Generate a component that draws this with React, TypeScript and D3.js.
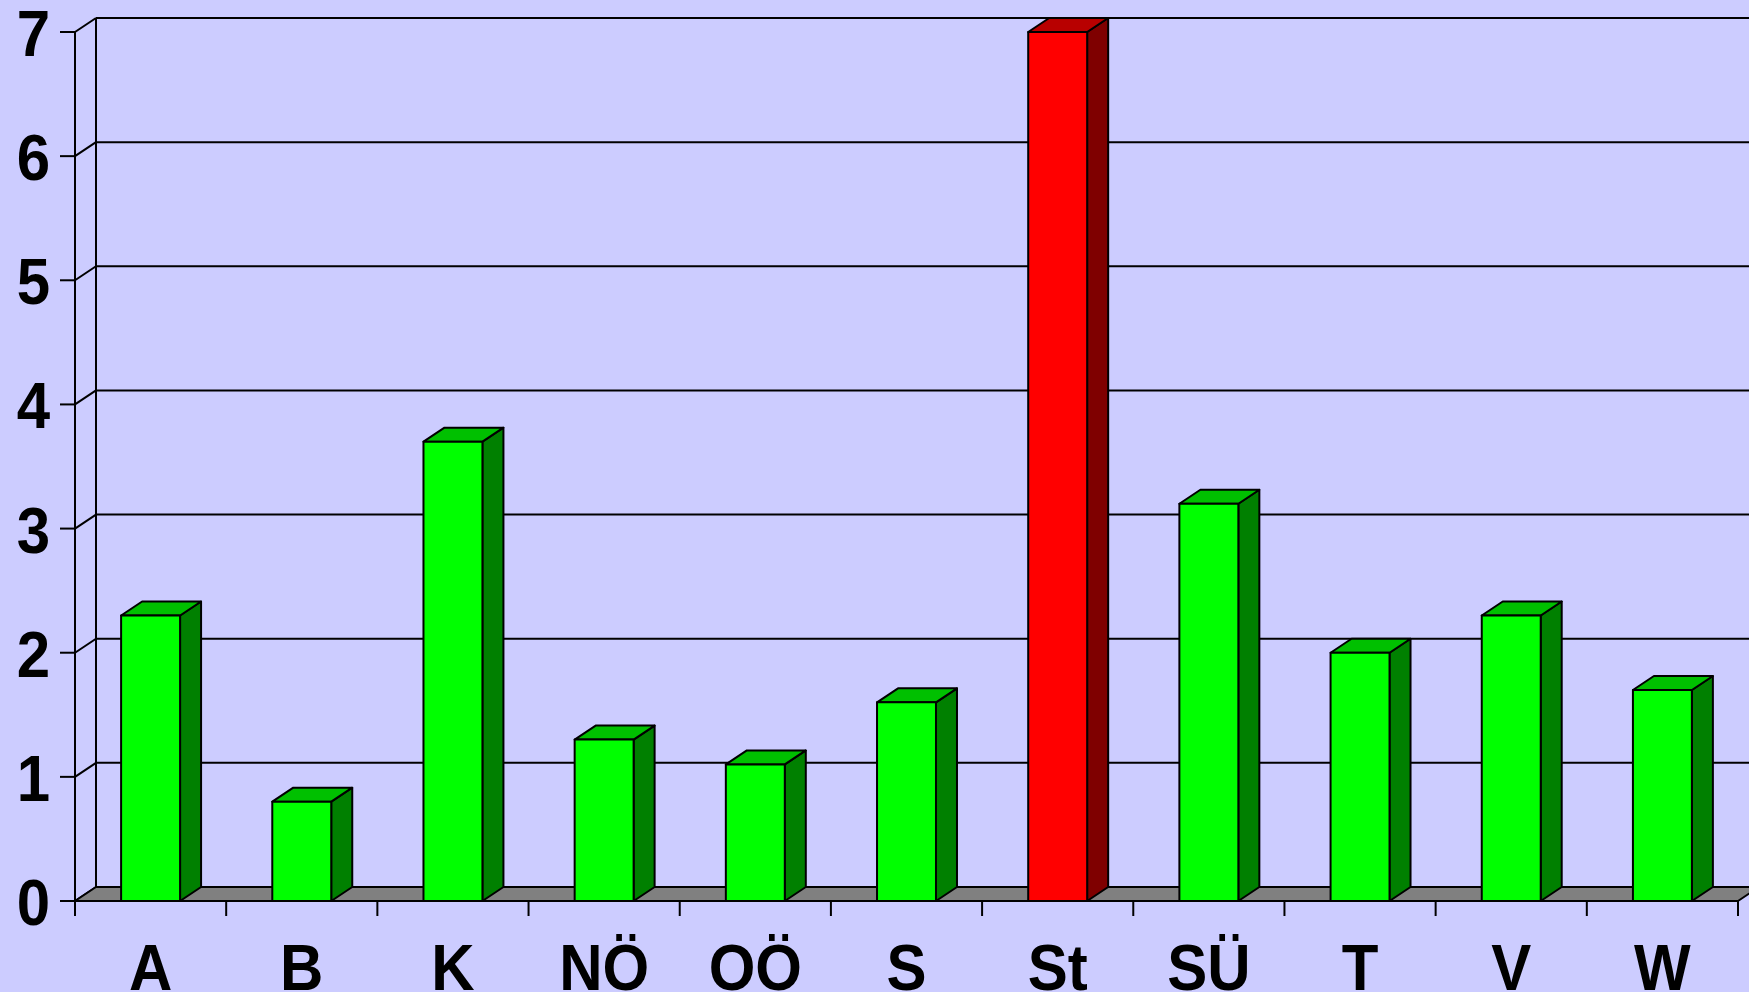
import * as d3 from "d3";

const categories = ["A", "B", "K", "NÖ", "OÖ", "S", "St", "SÜ", "T", "V", "W"];
const values = [2.3, 0.8, 3.7, 1.3, 1.1, 1.6, 7.0, 3.2, 2.0, 2.3, 1.7];
const highlight = ["St"];
const yTicks = [0, 1, 2, 3, 4, 5, 6, 7];

const W = 1749;
const H = 992;
const DX = 21; // depth of the 3d effect
const DY = 14;

export default function App() {
  const x = d3.scaleBand<string>().domain(categories).range([75, 1738]).padding(0);
  const y = d3.scaleLinear().domain([0, 7]).range([901, 32]);
  const barW = x.bandwidth() * 0.39;
  const font = "'Liberation Sans', Arial, sans-serif";
  // labels in the original look a bit taller than plain bold Arial
  const stretch = "scale(1,1.08)";

  const floor = `M${x.range()[0]},${y(0)} L${x.range()[1]},${y(0)} L${x.range()[1] + DX},${y(0) - DY} L${x.range()[0] + DX},${y(0) - DY} Z`;

  return (
    <svg width={W} height={H} style={{ position: "absolute", left: 0, top: 0, display: "block" }}>
      <rect width={W} height={H} fill="#CCCCFF" />

      {/* back wall grid */}
      {yTicks.map((t) => (
        <g key={"g" + t}>
          {t > 0 && (
            <line x1={75 + DX} x2={W + 10} y1={y(t) - DY} y2={y(t) - DY} stroke="#000" strokeWidth={2} />
          )}
          <line x1={75} x2={75 + DX} y1={y(t)} y2={y(t) - DY} stroke="#000" strokeWidth={2} />
        </g>
      ))}
      <line x1={75 + DX} x2={75 + DX} y1={y(7) - DY} y2={y(0) - DY} stroke="#000" strokeWidth={2} />

      {/* floor */}
      <path d={floor} fill="#808080" stroke="#000" strokeWidth={2} strokeLinejoin="round" />

      {/* bars */}
      {categories.map((c, i) => {
        const v = values[i];
        const hot = highlight.includes(c);
        const x0 = x(c)! + (x.bandwidth() - barW) / 2;
        const x1 = x0 + barW;
        const yt = y(v);
        const yb = y(0);
        const front = hot ? "#FF0000" : "#00FF00";
        const top = hot ? "#B80000" : "#00C000";
        const side = hot ? "#7F0000" : "#008000";
        return (
          <g key={c} stroke="#000" strokeWidth={2} strokeLinejoin="round">
            <path d={`M${x1},${yb} L${x1 + DX},${yb - DY} L${x1 + DX},${yt - DY} L${x1},${yt} Z`} fill={side} />
            <path d={`M${x0},${yt} L${x1},${yt} L${x1 + DX},${yt - DY} L${x0 + DX},${yt - DY} Z`} fill={top} />
            <rect x={x0} y={yt} width={barW} height={yb - yt} fill={front} />
          </g>
        );
      })}

      {/* front axes */}
      <line x1={75} x2={75} y1={y(7)} y2={y(0) + 15} stroke="#000" strokeWidth={2} />
      <line x1={75} x2={x.range()[1]} y1={y(0)} y2={y(0)} stroke="#000" strokeWidth={2} />
      {yTicks.map((t) => (
        <g key={"t" + t}>
          <line x1={60} x2={75} y1={y(t)} y2={y(t)} stroke="#000" strokeWidth={2} />
          <text
            transform={`translate(50,${y(t) + 24}) ${stretch}`}
            textAnchor="end"
            fontFamily={font}
            fontWeight="bold"
            fontSize={60}
            fill="#000"
          >
            {t}
          </text>
        </g>
      ))}
      {categories.map((c) => (
        <line key={"xt" + c} x1={x(c)! + x.bandwidth()} x2={x(c)! + x.bandwidth()} y1={y(0)} y2={y(0) + 15} stroke="#000" strokeWidth={2} />
      ))}
      {categories.map((c) => (
        <text
          key={"xl" + c}
          transform={`translate(${x(c)! + x.bandwidth() / 2},990) ${stretch}`}
          textAnchor="middle"
          fontFamily={font}
          fontWeight="bold"
          fontSize={60}
          fill="#000"
        >
          {c}
        </text>
      ))}
    </svg>
  );
}
